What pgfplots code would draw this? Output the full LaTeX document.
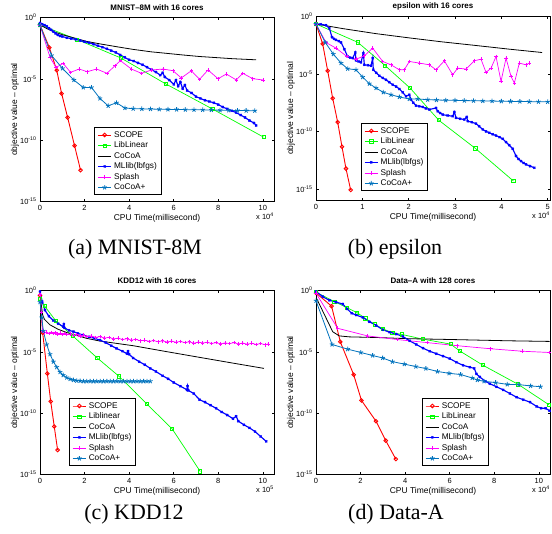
\documentclass[border=0pt]{standalone}
\usepackage{fontspec}
\setmainfont{Liberation Sans}
\newfontfamily\timesf{Liberation Serif}
\usepackage{pgfplots}
\pgfplotsset{compat=1.18}
\definecolor{mblue}{rgb}{0,0.447,0.741}
\definecolor{mmag}{rgb}{1,0,1}
\definecolor{mgreen}{rgb}{0,1,0}
\pgfplotsset{
 panel/.style={
  scale only axis, width=234bp, height=184bp, anchor=south west,
  xmin=0, xmax=10.5, ymin=-15, ymax=0,
  xtick={0,2,4,6,8,10},
  ytick={0,-5,-10,-15},
  yticklabels={10\textsuperscript{0},10\textsuperscript{-5},10\textsuperscript{-10},10\textsuperscript{-15}},
  tick align=inside,
  major tick length=2.5bp,
  axis line style={line width=0.7pt},
  every tick/.style={line width=0.5pt, black},
  tick label style={font=\fontsize{7.5}{8}\selectfont},
  /pgf/number format/assume math mode=true,
  xlabel={CPU Time(millisecond)},
  ylabel={objective value -- optimal},
  xlabel style={at={(axis description cs:0.5,-0.09)}, anchor=center, font=\fontsize{8.5}{9}\selectfont},
  ylabel style={at={(axis description cs:-0.107,0.5)}, anchor=center, font=\fontsize{8.5}{9}\selectfont},
  legend style={draw=black, line width=1pt, fill=white, font=\fontsize{8.3}{9}\selectfont, anchor=south west, inner xsep=2.5bp, inner ysep=1.5bp, row sep=-0.9bp, cells={anchor=west}},
  legend image code/.code={\draw[mark repeat=2,mark phase=2,#1] plot coordinates {(0cm,0cm) (0.24cm,0cm) (0.48cm,0cm)};},
 },
 scope/.style={red, line width=0.9pt, mark=o, mark size=1.8bp},
 libl/.style={mgreen, line width=0.7pt, mark=square, mark size=1.6bp},
 cocoa/.style={black, line width=0.8pt, mark=none},
 mllib/.style={blue, line width=1.15pt, mark=x, mark size=1.4bp},
 splash/.style={mmag, line width=0.7pt, mark=+, mark size=1.8bp},
 cocoap/.style={mblue, line width=0.8pt, mark=star, mark size=2.4bp},
}
\newcommand{\xpow}[2]{\node[font=\fontsize{7.5}{8}\selectfont] at ([xshift=-9bp,yshift=-14.5bp]#1.south east) {x 10\textsuperscript{#2}};}
\newcommand{\ptitle}[2]{\node[font=\bfseries\fontsize{8}{9}\selectfont] at ([yshift=9.7bp]#1.north) {#2};}
\begin{document}
\begin{tikzpicture}
\path[use as bounding box] (0,0) rectangle (552bp,-534bp);
% ---------------- (a)
\begin{axis}[panel, name=a, at={(40bp,-201.5bp)},
  legend style={at={(0.232,0.035)}}]
\addplot[scope] table {
x y
0 -0.6
0.42 -2.45
0.75 -4.3
0.97 -6.2
1.24 -8.15
1.55 -10.45
1.82 -12.45
};
\addplot[libl] table {
x y
0 -0.6
1.67 -1.8
3.63 -3.3
5.63 -5.4
7.73 -7.45
10.03 -9.75
};
\addplot[cocoa] table {
x y
0 -0.6
0.3 -0.9
0.6 -1.15
1.0 -1.4
1.5 -1.65
2.09 -1.95
2.69 -2.15
3.5 -2.4
4.18 -2.6
5.0 -2.8
5.67 -2.92
6.5 -3.07
7.16 -3.18
8.0 -3.28
8.66 -3.36
9.7 -3.45
};
\addplot[mllib] table {
x y
0 -0.45
0.1 -0.55
0.2 -0.62
0.3 -0.72
0.4 -0.88
0.5 -1.0
0.6 -1.15
0.7 -1.3
0.8 -1.42
0.9 -1.5
1.0 -1.55
1.2 -1.65
1.4 -1.72
1.6 -1.78
1.8 -1.88
2.0 -1.98
2.2 -2.05
2.4 -2.18
2.6 -2.3
2.8 -2.42
3.0 -2.55
3.2 -2.7
3.4 -2.85
3.6 -3.05
3.8 -3.25
4.0 -3.45
4.2 -3.55
4.4 -3.7
4.6 -3.85
4.8 -4.05
5.0 -4.25
5.2 -4.45
5.4 -4.7
5.5 -4.5
5.6 -4.85
5.8 -5.1
6.0 -5.45
6.1 -5.1
6.2 -5.6
6.3 -5.25
6.4 -5.8
6.5 -5.5
6.6 -5.95
6.8 -6.15
7.0 -6.45
7.2 -6.6
7.4 -6.75
7.6 -6.85
7.8 -6.95
8.0 -7.1
8.2 -7.3
8.4 -7.45
8.6 -7.6
8.8 -7.75
9.0 -7.95
9.2 -8.15
9.4 -8.4
9.6 -8.6
9.7 -8.8
};
\addplot[splash] table {
x y
0 -0.62
0.45 -3.25
0.72 -4.07
1.04 -3.74
1.37 -4.47
1.76 -4.2
2.12 -4.42
2.54 -4.2
3.01 -4.55
3.36 -3.93
3.61 -3.52
4.1 -4.2
4.55 -4.55
5.0 -4.28
5.52 -4.2
5.97 -4.34
6.34 -4.93
6.79 -4.34
7.16 -5.04
7.54 -4.28
7.99 -4.99
8.36 -4.61
8.81 -5.09
9.1 -4.55
9.55 -4.99
10.0 -5.09
};
\addplot[cocoap] table {
x y
0 -0.62
0.52 -3.1
1.01 -4.15
1.52 -5.1
1.94 -5.7
2.31 -5.7
2.69 -6.6
3.06 -7.2
3.43 -6.95
3.81 -7.38
4.18 -7.43
4.57 -7.45
4.96 -7.46
5.35 -7.48
5.74 -7.49
6.13 -7.5
6.52 -7.51
6.91 -7.52
7.3 -7.53
7.69 -7.54
8.08 -7.56
8.47 -7.57
8.86 -7.58
9.25 -7.59
9.64 -7.6
};
\legend{SCOPE,LibLinear,CoCoA,MLlib(lbfgs),Splash,CoCoA+}
\end{axis}
\xpow{a}{4}
\ptitle{a}{MNIST--8M with 16 cores}
% ---------------- (b)
\begin{axis}[panel, name=b, at={(316bp,-200.4bp)}, xmax=5.05, ymin=-16, xtick={0,1,2,3,4,5},
  legend style={at={(0.192,0.051)}}]
\addplot[scope] table {
x y
0 -0.66
0.144 -2.39
0.252 -4.73
0.36 -7.12
0.468 -9.2
0.561 -11.34
0.647 -13.24
0.748 -15.09
};
\addplot[libl] table {
x y
0 -0.66
0.9 -2.25
1.49 -4.27
2.03 -6.23
2.65 -9.03
3.44 -11.48
4.26 -14.31
};
\addplot[cocoa] table {
x y
0 -0.66
0.576 -1.06
1.295 -1.5
2.014 -1.87
2.734 -2.22
3.453 -2.53
4.173 -2.85
4.878 -3.14
};
\addplot[mllib] table {
x y
0 -0.66
0.1 -0.68
0.216 -0.77
0.288 -1.03
0.345 -1.81
0.39 -1.95
0.432 -2.04
0.49 -2.15
0.54 -2.27
0.612 -2.85
0.683 -3.49
0.74 -3.58
0.791 -3.63
0.849 -3.14
0.863 -3.83
0.92 -3.92
0.971 -4.0
1.022 -3.2
1.043 -4.21
1.12 -4.25
1.187 -4.29
1.223 -3.63
1.237 -4.64
1.3 -4.9
1.367 -5.16
1.44 -5.35
1.511 -5.51
1.58 -5.72
1.655 -5.94
1.73 -6.1
1.799 -6.31
1.87 -6.6
1.942 -6.95
2.014 -6.81
2.05 -7.24
2.1 -7.5
2.158 -7.76
2.23 -7.82
2.302 -7.87
2.37 -8.0
2.446 -8.1
2.59 -7.96
2.626 -8.25
2.68 -8.4
2.734 -8.54
2.84 -8.62
2.95 -8.68
2.986 -8.31
3.022 -8.82
3.11 -8.9
3.201 -8.97
3.252 -8.74
3.273 -9.11
3.36 -9.2
3.453 -9.32
3.52 -9.55
3.597 -9.83
3.67 -10.0
3.741 -10.12
3.81 -10.25
3.885 -10.36
3.96 -10.5
4.029 -10.64
4.101 -10.93
4.17 -11.2
4.245 -11.51
4.317 -12.14
4.37 -12.4
4.424 -12.58
4.48 -12.75
4.532 -12.87
4.62 -13.02
4.712 -13.16
};
\addplot[splash] table {
x y
0 -0.66
0.216 -2.27
0.432 -2.76
0.669 -3.49
0.863 -3.72
1.043 -3.43
1.223 -2.76
1.439 -3.92
1.619 -4.21
1.799 -4.64
1.906 -4.64
2.014 -3.92
2.23 -4.06
2.446 -4.21
2.59 -4.64
2.77 -3.86
2.95 -5.07
3.058 -4.5
3.237 -4.58
3.417 -3.86
3.561 -3.72
3.669 -4.87
3.777 -4.5
3.885 -3.49
3.993 -5.65
4.101 -3.63
4.209 -5.22
4.281 -5.79
4.388 -4.06
4.532 -4.21
4.604 -4.06
};
\addplot[cocoap] table {
x y
0 -0.66
0.201 -2.27
0.374 -3.28
0.54 -4.06
0.683 -4.55
0.863 -4.64
1.007 -5.28
1.151 -5.85
1.295 -6.23
1.453 -6.6
1.619 -6.81
1.799 -7.01
2.014 -7.18
2.194 -7.18
2.41 -7.24
2.6 -7.27
2.8 -7.29
3.0 -7.3
3.2 -7.32
3.4 -7.33
3.6 -7.35
3.8 -7.36
4.0 -7.38
4.2 -7.39
4.4 -7.4
4.6 -7.41
4.8 -7.42
5.0 -7.43
};
\legend{SCOPE,LibLinear,CoCoA,MLlib(lbfgs),Splash,CoCoA+}
\end{axis}
\xpow{b}{4}
\ptitle{b}{epsilon with 16 cores}
% ---------------- (c)
\begin{axis}[panel, name=c, at={(40bp,-474.5bp)},
  legend style={at={(0.124,0.046)}}]
\addplot[scope] table {
x y
0 -0.4
0.12 -3.45
0.33 -6.77
0.48 -9.04
0.64 -11.09
0.79 -13.0
};
\addplot[libl] table {
x y
0 -0.7
0.2 -1.25
0.72 -2.5
1.46 -3.69
2.57 -5.5
3.55 -7.0
4.78 -9.23
5.93 -11.28
7.19 -14.75
};
\addplot[cocoa] table {
x y
0 -0.3
0.06 -1.2
0.12 -2.0
0.2 -2.35
0.45 -2.8
0.8 -3.15
1.19 -3.42
2.09 -3.9
2.69 -4.12
4.18 -4.5
5.67 -4.98
7.16 -5.45
8.66 -5.92
10.05 -6.35
};
\addplot[mllib] table {
x y
0 -0.08
0.1 -0.9
0.22 -1.6
0.4 -2.1
0.6 -2.45
0.82 -2.7
1.04 -2.95
1.07 -2.75
1.1 -3.05
1.3 -3.25
1.5 -3.35
1.7 -3.5
1.94 -3.63
2.2 -3.78
2.45 -3.9
2.69 -4.04
2.95 -4.25
3.2 -4.5
3.43 -4.72
3.7 -4.95
3.9 -5.15
3.95 -4.95
4.0 -5.2
4.18 -5.5
4.45 -5.8
4.7 -6.05
4.95 -6.35
5.2 -6.6
5.5 -6.95
5.75 -7.2
6.0 -7.5
6.3 -7.8
6.6 -8.1
6.62 -7.8
6.66 -8.15
6.9 -8.4
7.16 -8.9
7.4 -9.1
7.65 -9.35
7.9 -9.6
8.15 -9.9
8.4 -10.15
8.66 -10.45
8.8 -10.25
8.9 -10.65
9.15 -10.95
9.4 -11.2
9.65 -11.5
9.9 -11.9
10.15 -12.3
};
\addplot[splash] table {
x y
0 -0.35
0.06 -1.8
0.12 -3.3
0.2 -3.45
0.3 -3.38
0.4 -3.5
0.5 -3.42
0.6 -3.52
0.7 -3.45
0.8 -3.55
0.9 -3.48
1.0 -3.58
1.1 -3.5
1.2 -3.6
1.35 -3.54
1.5 -3.65
1.65 -3.58
1.8 -3.7
1.95 -3.63
2.1 -3.75
2.3 -3.7
2.5 -3.82
2.7 -3.76
2.9 -3.88
3.1 -3.82
3.3 -3.95
3.5 -3.88
3.7 -4.0
3.9 -3.93
4.1 -4.05
4.3 -3.98
4.5 -4.1
4.7 -4.05
4.9 -4.15
5.1 -4.08
5.3 -4.18
5.5 -4.1
5.7 -4.2
5.9 -4.12
6.1 -4.22
6.3 -4.15
6.5 -4.25
6.7 -4.18
6.9 -4.3
7.1 -4.2
7.3 -4.28
7.5 -4.22
7.7 -4.32
7.9 -4.25
8.1 -4.35
8.3 -4.27
8.5 -4.33
8.7 -4.25
8.9 -4.36
9.1 -4.28
9.3 -4.38
9.5 -4.3
9.7 -4.4
9.9 -4.32
10.1 -4.42
10.25 -4.35
};
\addplot[cocoap] table {
x y
0 -0.95
0.08 -2.2
0.15 -3.3
0.3 -4.4
0.45 -5.2
0.6 -5.8
0.75 -6.25
0.9 -6.65
1.04 -6.9
1.2 -7.1
1.35 -7.22
1.5 -7.3
1.65 -7.35
1.8 -7.37
1.95 -7.4
2.1 -7.4
2.25 -7.4
2.4 -7.4
2.55 -7.4
2.7 -7.4
2.85 -7.4
3.0 -7.4
3.15 -7.4
3.3 -7.4
3.45 -7.4
3.6 -7.4
3.75 -7.4
3.9 -7.4
4.05 -7.4
4.2 -7.4
4.35 -7.4
4.5 -7.4
4.65 -7.4
4.8 -7.4
4.95 -7.4
};
\legend{SCOPE,Liblinear,CoCoA,MLlib(lbfgs),Splash,CoCoA+}
\end{axis}
\xpow{c}{5}
\ptitle{c}{KDD12 with 16 cores}
% ---------------- (d)
\begin{axis}[panel, name=d, at={(316bp,-474.5bp)},
  legend style={at={(0.453,0.046)}}]
\addplot[scope] table {
x y
0 -0.2
0.7 -1.28
1.09 -4.18
1.69 -6.86
2.04 -8.96
2.69 -10.65
3.13 -12.24
3.58 -13.74
};
\addplot[libl] table {
x y
0 -0.13
0.82 -0.9
1.37 -1.39
1.84 -1.8
2.21 -2.27
2.64 -2.76
3.01 -3.14
3.43 -3.44
3.85 -3.58
4.78 -3.96
6.04 -4.37
6.46 -4.94
7.49 -6.09
9.07 -7.65
10.45 -9.31
};
\addplot[cocoa] table {
x y
0 -0.55
0.75 -3.36
1.04 -3.7
1.5 -3.78
2.69 -3.83
4.18 -3.93
5.67 -3.98
7.16 -4.04
8.66 -4.1
10.48 -4.15
};
\addplot[mllib] table {
x y
0 -0.08
0.3 -0.5
0.6 -0.8
0.9 -0.95
1.2 -1.1
1.4 -1.5
1.6 -1.85
1.8 -2.0
2.1 -2.2
2.4 -2.55
2.7 -2.85
3.0 -3.2
3.3 -3.4
3.6 -3.55
3.9 -3.75
4.2 -4.1
4.5 -4.4
4.8 -4.7
5.1 -4.95
5.4 -5.15
5.7 -5.35
6.0 -5.55
6.3 -5.85
6.6 -6.1
6.9 -6.25
7.1 -6.35
7.2 -6.8
7.35 -7.05
7.6 -7.4
7.8 -7.6
8.1 -7.85
8.4 -8.1
8.7 -8.4
9.0 -8.7
9.3 -8.9
9.6 -9.1
9.9 -9.45
10.1 -9.6
10.3 -9.6
10.48 -9.8
};
\addplot[splash] table {
x y
0 -0.22
0.97 -3.08
2.31 -3.7
3.66 -4.0
5.0 -4.25
6.34 -4.5
7.84 -4.75
9.25 -4.95
10.45 -5.05
};
\addplot[cocoap] table {
x y
0 -0.84
0.72 -4.4
1.42 -4.78
2.01 -5.05
2.54 -5.3
2.99 -5.5
3.43 -5.8
3.96 -6.0
4.48 -6.2
4.93 -6.36
5.45 -6.6
5.97 -6.75
6.49 -6.85
7.01 -7.13
7.24 -7.3
7.54 -7.4
8.06 -7.51
8.58 -7.65
9.1 -7.67
9.63 -7.78
10.07 -7.84
};
\legend{SCOPE,LibLinear,CoCoA,MLlib(lbfgs),Splash,CoCoA+}
\end{axis}
\xpow{d}{4}
\ptitle{d}{Data--A with 128 cores}
% captions
\node[font=\timesf\fontsize{22}{24}\selectfont, anchor=base] at (135bp,-254bp) {(a) MNIST-8M};
\node[font=\timesf\fontsize{22}{24}\selectfont, anchor=base] at (395bp,-254bp) {(b) epsilon};
\node[font=\timesf\fontsize{22}{24}\selectfont, anchor=base] at (134bp,-519bp) {(c) KDD12};
\node[font=\timesf\fontsize{22}{24}\selectfont, anchor=base] at (396bp,-519bp) {(d) Data-A};
\end{tikzpicture}
\end{document}
